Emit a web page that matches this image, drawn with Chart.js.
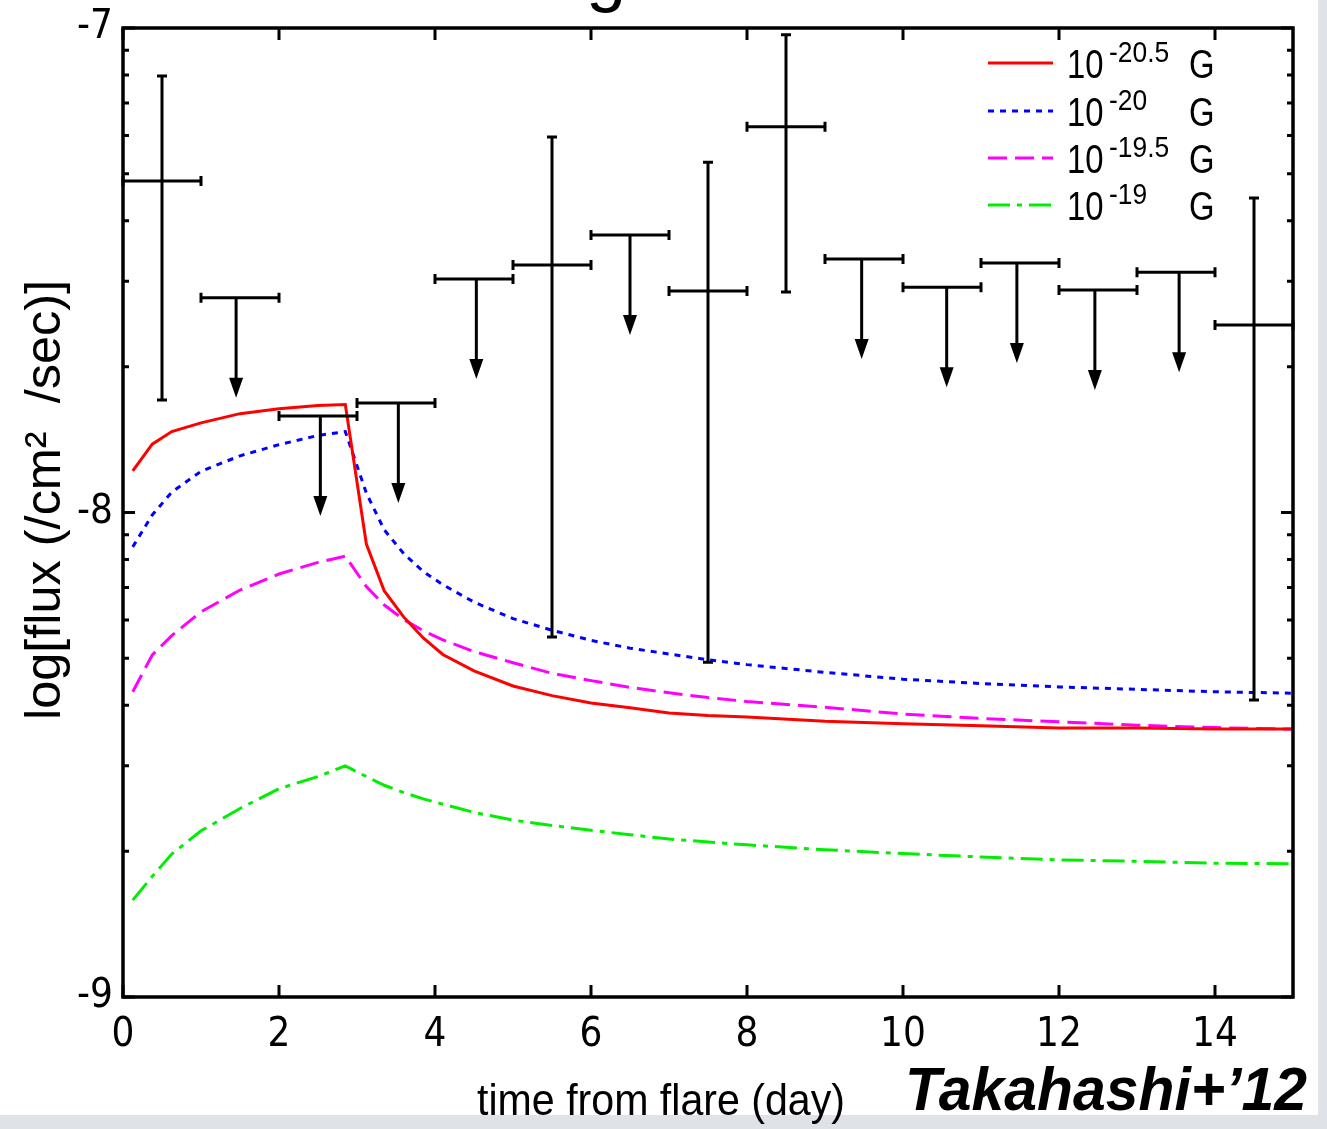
<!DOCTYPE html>
<html>
<head>
<meta charset="utf-8">
<script src="https://cdn.jsdelivr.net/npm/chart.js@4.4.0/dist/chart.umd.min.js"></script>
<style>
    html, body { margin: 0; padding: 0; background: #dfe3e8; }
    #wrap { width: 1327px; height: 1129px; }
</style>
</head>
<body>
<div id="wrap"><canvas id="fluxChart" width="1327" height="1129"></canvas></div>
<script>
// model curves, log flux vs days from flare
const days = [0.125, 0.375, 0.625, 1.0, 1.5, 2.0, 2.5, 2.85, 3.12, 3.35, 3.6, 3.85, 4.1, 4.5,
              5.0, 5.5, 6.0, 6.5, 7.0, 7.5, 8.0, 9.0, 10.0, 11.0, 12.0, 13.0, 14.0, 15.0];
const field205 = [-7.914, -7.859, -7.833, -7.815, -7.796, -7.786, -7.779, -7.777, -8.065, -8.162,
                  -8.216, -8.259, -8.293, -8.327, -8.358, -8.378, -8.393, -8.403, -8.414, -8.419,
                  -8.422, -8.431, -8.436, -8.440, -8.445, -8.445, -8.447, -8.447];
const field20 = [-8.071, -8.005, -7.958, -7.915, -7.883, -7.860, -7.841, -7.833, -7.960, -8.036,
                 -8.085, -8.122, -8.149, -8.185, -8.219, -8.243, -8.264, -8.280, -8.292, -8.304,
                 -8.314, -8.330, -8.344, -8.353, -8.360, -8.365, -8.370, -8.373];
const field195 = [-8.370, -8.294, -8.254, -8.205, -8.160, -8.127, -8.103, -8.090, -8.153, -8.191,
                  -8.221, -8.244, -8.263, -8.287, -8.310, -8.332, -8.347, -8.361, -8.372, -8.382,
                  -8.390, -8.402, -8.416, -8.425, -8.432, -8.439, -8.444, -8.447];
const field19 = [-8.800, -8.751, -8.705, -8.657, -8.611, -8.570, -8.545, -8.523, -8.545, -8.563,
                 -8.578, -8.591, -8.602, -8.619, -8.635, -8.646, -8.656, -8.665, -8.674, -8.680,
                 -8.686, -8.696, -8.704, -8.711, -8.717, -8.720, -8.724, -8.725];
const legendExp = ['-20.5', '-20', '-19.5', '-19'];

// detections (bin start/end, value, error range)
const detStart = [0, 5, 7, 8, 14];
const detEnd = [1, 6, 8, 9, 15];
const detX = [0.5, 5.5, 7.5, 8.5, 14.5];
const detY = [-7.316, -7.489, -7.543, -7.204, -7.613];
const detLow = [-7.768, -8.257, -8.309, -7.545, -8.387];
const detHigh = [-7.099, -7.225, -7.277, -7.014, -7.351];

// upper limits
const ulStart = [1, 2, 3, 4, 6, 9, 10, 11, 12, 13];
const ulEnd = [2, 3, 4, 5, 7, 10, 11, 12, 13, 14];
const ulY = [-7.557, -7.801, -7.774, -7.518, -7.427, -7.477, -7.535, -7.485, -7.541, -7.504];
const ulArrowX = [1.45, 2.53, 3.53, 4.53, 6.5, 9.47, 10.56, 11.46, 12.46, 13.54];

const xTicks = [0, 2, 4, 6, 8, 10, 12, 14];
const yTicks = [-9, -8, -7];
const minorFactors = [2, 3, 4, 5, 6, 7, 8, 9];

const NARROW = "'Liberation Sans Narrow', 'DejaVu Sans Condensed', 'Liberation Sans', sans-serif";
const SANS = "'Liberation Sans', Arial, sans-serif";

function toPoints(ys) {
    return days.map((d, i) => ({ x: d, y: ys[i] }));
}

function fitText(ctx, text, x, y, width, align) {
    const w = ctx.measureText(text).width;
    ctx.save();
    ctx.translate(x, y);
    ctx.scale(width / w, 1);
    ctx.textAlign = align;
    ctx.fillText(text, 0, 0);
    ctx.restore();
}

function squeezeText(ctx, text, x, y, sx) {
    ctx.save();
    ctx.translate(x, y);
    ctx.scale(sx, 1);
    ctx.textAlign = 'left';
    ctx.fillText(text, 0, 0);
    ctx.restore();
}

const backgroundPlugin = {
    id: 'background',
    beforeDraw(chart) {
        const ctx = chart.ctx;
        ctx.save();
        ctx.fillStyle = '#dfe3e8';
        ctx.fillRect(0, 0, chart.width, chart.height);
        ctx.fillStyle = '#ffffff';
        ctx.fillRect(0, 0, 1318, 1115);
        // bottom of the cut-off title letter
        ctx.fillStyle = '#000';
        ctx.font = '72px ' + SANS;
        ctx.textAlign = 'center';
        ctx.textBaseline = 'alphabetic';
        ctx.fillText('g', 606, -2);
        ctx.restore();
    }
};

const errorBarPlugin = {
    id: 'errorBars',
    afterDatasetsDraw(chart) {
        const { ctx, scales: { x, y } } = chart;
        const cap = 5;
        const arrowLen = 100, headW = 7, headH = 20;
        ctx.save();
        ctx.strokeStyle = '#000';
        ctx.fillStyle = '#000';
        ctx.lineWidth = 3;

        function hbar(x0, x1, py) {
            ctx.moveTo(x0, py); ctx.lineTo(x1, py);
            ctx.moveTo(x0, py - cap); ctx.lineTo(x0, py + cap);
            ctx.moveTo(x1, py - cap); ctx.lineTo(x1, py + cap);
        }

        detX.forEach((xc, i) => {
            const py = y.getPixelForValue(detY[i]);
            const pxc = x.getPixelForValue(xc);
            const pLo = y.getPixelForValue(detLow[i]);
            const pHi = y.getPixelForValue(detHigh[i]);
            ctx.beginPath();
            hbar(x.getPixelForValue(detStart[i]), x.getPixelForValue(detEnd[i]), py);
            ctx.moveTo(pxc, pHi); ctx.lineTo(pxc, pLo);
            ctx.moveTo(pxc - cap, pHi); ctx.lineTo(pxc + cap, pHi);
            ctx.moveTo(pxc - cap, pLo); ctx.lineTo(pxc + cap, pLo);
            ctx.stroke();
        });

        ulY.forEach((v, i) => {
            const py = y.getPixelForValue(v);
            const pxa = x.getPixelForValue(ulArrowX[i]);
            const tip = py + arrowLen;
            ctx.beginPath();
            hbar(x.getPixelForValue(ulStart[i]), x.getPixelForValue(ulEnd[i]), py);
            ctx.moveTo(pxa, py); ctx.lineTo(pxa, tip - headH + 2);
            ctx.stroke();
            ctx.beginPath();
            ctx.moveTo(pxa - headW, tip - headH);
            ctx.lineTo(pxa + headW, tip - headH);
            ctx.lineTo(pxa, tip);
            ctx.closePath();
            ctx.fill();
        });
        ctx.restore();
    }
};

const framePlugin = {
    id: 'frame',
    afterDraw(chart) {
        const { ctx, chartArea: { left, right, top, bottom }, scales: { x, y } } = chart;
        const major = 12, minor = 6;
        ctx.save();
        ctx.strokeStyle = '#000';
        ctx.lineWidth = 3;
        ctx.beginPath();
        xTicks.forEach(v => {
            const px = x.getPixelForValue(v);
            ctx.moveTo(px, bottom); ctx.lineTo(px, bottom - major);
            ctx.moveTo(px, top); ctx.lineTo(px, top + major);
        });
        yTicks.forEach(v => {
            const py = y.getPixelForValue(v);
            ctx.moveTo(left, py); ctx.lineTo(left + major, py);
            ctx.moveTo(right, py); ctx.lineTo(right - major, py);
        });
        [-9, -8].forEach(d => {
            minorFactors.forEach(k => {
                const py = y.getPixelForValue(d + Math.log10(k));
                ctx.moveTo(left, py); ctx.lineTo(left + minor, py);
                ctx.moveTo(right, py); ctx.lineTo(right - minor, py);
            });
        });
        ctx.stroke();
        ctx.lineWidth = 3.5;
        ctx.strokeRect(left, top, right - left, bottom - top);

        // axis titles
        ctx.fillStyle = '#000';
        ctx.textBaseline = 'alphabetic';
        ctx.font = '45px ' + SANS;
        fitText(ctx, 'time from flare (day)', 661, 1115, 368, 'center');

        ctx.save();
        ctx.translate(60, 500);
        ctx.rotate(-Math.PI / 2);
        ctx.font = '50px ' + SANS;
        fitText(ctx, 'log[flux (/cm\u00B2  /sec)]', 0, 0, 440, 'center');
        ctx.restore();

        ctx.font = 'italic bold 62px ' + SANS;
        fitText(ctx, 'Takahashi+\u201912', 1307, 1110, 402, 'right');
        ctx.restore();
    }
};

const legendPlugin = {
    id: 'fieldLegend',
    afterDraw(chart) {
        const ctx = chart.ctx;
        const rowY = [63, 111, 158, 205];
        ctx.save();
        chart.data.datasets.forEach((ds, i) => {
            const ly = rowY[i];
            ctx.strokeStyle = ds.borderColor;
            ctx.lineWidth = ds.borderWidth;
            ctx.setLineDash(ds.borderDash || []);
            ctx.beginPath();
            ctx.moveTo(988, ly);
            ctx.lineTo(1053, ly);
            ctx.stroke();
            ctx.setLineDash([]);

            ctx.fillStyle = '#000';
            ctx.textBaseline = 'alphabetic';
            ctx.font = '40px ' + SANS;
            squeezeText(ctx, '10', 1067, ly + 15, 0.82);
            ctx.font = '30px ' + SANS;
            squeezeText(ctx, legendExp[i], 1109, ly - 1, 0.88);
            ctx.font = '40px ' + SANS;
            squeezeText(ctx, 'G', 1189, ly + 15, 0.82);
        });
        ctx.restore();
    }
};

const ctx = document.getElementById('fluxChart');

new Chart(ctx, {
    type: 'scatter',
    data: {
        datasets: [
            {
                label: '10^' + legendExp[0] + ' G',
                data: toPoints(field205),
                borderColor: '#ff0000',
                borderWidth: 3,
                showLine: true,
                pointRadius: 0
            },
            {
                label: '10^' + legendExp[1] + ' G',
                data: toPoints(field20),
                borderColor: '#0000ff',
                borderWidth: 3,
                borderDash: [6, 6],
                showLine: true,
                pointRadius: 0
            },
            {
                label: '10^' + legendExp[2] + ' G',
                data: toPoints(field195),
                borderColor: '#ff00ff',
                borderWidth: 3,
                borderDash: [19, 8],
                showLine: true,
                pointRadius: 0
            },
            {
                label: '10^' + legendExp[3] + ' G',
                data: toPoints(field19),
                borderColor: '#00ee00',
                borderWidth: 3,
                borderDash: [22, 7, 5, 7],
                showLine: true,
                pointRadius: 0
            }
        ]
    },
    options: {
        responsive: false,
        animation: false,
        events: [],
        layout: { padding: { top: 28, right: 34, left: 0, bottom: 0 } },
        scales: {
            x: {
                type: 'linear',
                min: 0,
                max: 15,
                grid: { display: false },
                border: { display: false },
                ticks: {
                    stepSize: 2,
                    includeBounds: false,
                    padding: 7,
                    color: '#000',
                    font: { family: NARROW, size: 40 }
                },
                afterFit: scale => {
                    scale.height = 132;
                    scale.paddingLeft = 0;
                    scale.paddingRight = 0;
                }
            },
            y: {
                type: 'linear',
                min: -9,
                max: -7,
                grid: { display: false },
                border: { display: false },
                ticks: {
                    stepSize: 1,
                    padding: 2,
                    color: '#000',
                    font: { family: NARROW, size: 40 }
                },
                afterFit: scale => {
                    scale.width = 123;
                    scale.paddingTop = 0;
                    scale.paddingBottom = 0;
                }
            }
        },
        plugins: {
            legend: { display: false },
            tooltip: { enabled: false }
        }
    },
    plugins: [backgroundPlugin, errorBarPlugin, framePlugin, legendPlugin]
});
</script>
</body>
</html>
